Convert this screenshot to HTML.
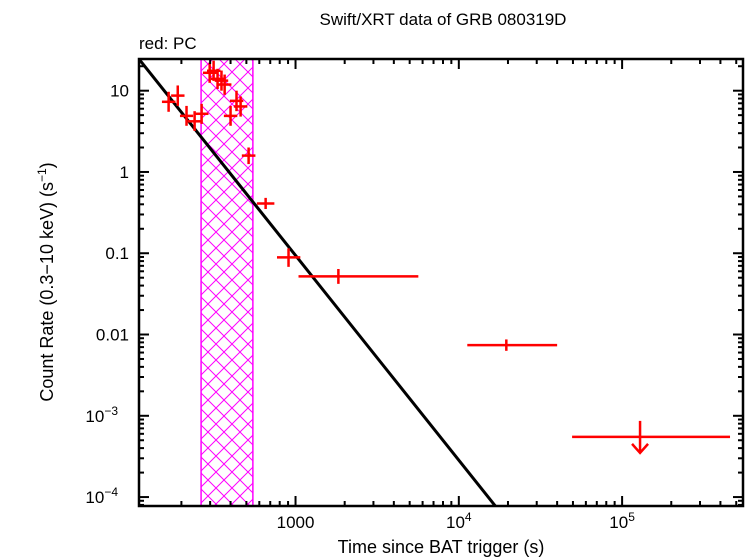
<!DOCTYPE html>
<html><head><meta charset="utf-8"><style>
body{margin:0;background:#fff}
svg{display:block;font-family:"Liberation Sans",sans-serif}
</style></head><body>
<svg id="chart" width="746" height="558" viewBox="0 0 746 558" xmlns="http://www.w3.org/2000/svg">
<defs>
<pattern id="hm" width="16" height="16" patternUnits="userSpaceOnUse"><path d="M0 0L16 16M16 0L0 16" stroke="#f0f" stroke-width="1"/></pattern>
</defs>
<text x="443" y="25" font-size="17" text-anchor="middle">Swift/XRT data of GRB 080319D</text>
<text x="139" y="49" font-size="17">red: PC</text>
<text x="441" y="553" font-size="18" text-anchor="middle">Time since BAT trigger (s)</text>
<text transform="translate(53 282) rotate(-90)" font-size="18" text-anchor="middle">Count Rate (0.3−10 keV) (s<tspan font-size="12" dy="-7">−1</tspan><tspan dy="7">)</tspan></text>
<g id="plot"></g>
</svg>
<script>
const xTicksMajor=[1000,1e4,1e5];
const xTickLabels=["1000","10","10"];
const xTickSup=["","4","5"];
const yTicksMajor=[10,1,0.1,0.01,1e-3,1e-4];
const yTickLabels=["10","1","0.1","0.01","10","10"];
const yTickSup=["","","","","−3","−4"];
const ptTime=[167,190,215,241,266,298,315,333,352,368,400,435,461,516,656,906,1830,19540];
const ptTlo=[152,173,196,219,242,271,287,303,320,335,364,396,419,469,580,770,1043,11270];
const ptThi=[184,209,236,265,293,328,347,366,387,405,440,479,507,568,742,1070,5650,40000];
const ptRate=[7.3,8.7,4.9,4.2,5.2,16.6,17.6,14,13.3,11.9,4.9,7.5,6.4,1.59,0.41,0.089,0.052,0.0074];
const ptRlo=[5.5,6.5,3.7,3.2,3.9,12.5,13.2,10.5,10.0,8.9,3.7,5.6,4.8,1.25,0.35,0.068,0.042,0.0063];
const ptRhi=[9.7,11.6,6.5,5.6,6.9,22.1,23.4,18.6,17.7,15.8,6.5,10.0,8.5,2.0,0.48,0.115,0.064,0.0087];
const ulTime=[128800];const ulTlo=[49400];const ulThi=[458000];const ulRate=[5.5e-4];
const bandStart=[264];const bandEnd=[548];
const modelT=[110,17500];const modelNorm=[24.5];const modelSlope=[-2.52];

const L=139,R=743,T=59,B=506;
const xmin=Math.log10(110),xmax=Math.log10(5.5e5),ymin=-4.11,ymax=1.39;
const X=t=>L+(Math.log10(t)-xmin)/(xmax-xmin)*(R-L);
const Y=v=>T+(ymax-Math.log10(v))/(ymax-ymin)*(B-T);
const NS="http://www.w3.org/2000/svg";
const g=document.getElementById('plot');
function el(tag,a,p){const e=document.createElementNS(NS,tag);for(const k in a)e.setAttribute(k,a[k]);(p||g).appendChild(e);return e;}

for(let i=0;i<bandStart.length;i++){
 const x1=X(bandStart[i]),x2=X(bandEnd[i]);
 const b2=el('rect',{x:x1,y:T,width:x2-x1,height:B-T,fill:'url(#hm)',stroke:'#f0f','stroke-width':1.5});
 
 
}
{
 const f=t=>modelNorm[0]*Math.pow(t/modelT[0],modelSlope[0]);
 const cg=el('g',{});
 const cp=el('clipPath',{id:'cl'},cg);el('rect',{x:L,y:T,width:R-L,height:B-T},cp);
 const ln=el('line',{x1:X(modelT[0]),y1:Y(f(modelT[0])),x2:X(modelT[1]),y2:Y(f(modelT[1])),stroke:'#000','stroke-width':3,'clip-path':'url(#cl)'});
 
 
}
for(let i=0;i<ptTime.length;i++){
 const pg=el('g',{stroke:'#f00','stroke-width':2.5});
 
 
 el('line',{x1:X(ptTlo[i]),x2:X(ptThi[i]),y1:Y(ptRate[i]),y2:Y(ptRate[i])},pg);
 el('line',{x1:X(ptTime[i]),x2:X(ptTime[i]),y1:Y(ptRlo[i]),y2:Y(ptRhi[i])},pg);
}
for(let i=0;i<ulTime.length;i++){
 const pg=el('g',{stroke:'#f00','stroke-width':2.5,fill:'none'});
 
 
 const y=Y(ulRate[i]),x=X(ulTime[i]);
 el('line',{x1:X(ulTlo[i]),x2:X(ulThi[i]),y1:y,y2:y},pg);
 el('line',{x1:x,x2:x,y1:y-16,y2:y+16},pg);
 el('path',{d:`M${x-8} ${y+7}L${x} ${y+16}L${x+8} ${y+7}`},pg);
}
const fr=el('rect',{x:L,y:T,width:R-L,height:B-T,fill:'none',stroke:'#000','stroke-width':2.5});


for(let d=2;d<=5;d++)for(let m=1;m<10;m++){
 const t=m*Math.pow(10,d);const x=X(t);if(x<L||x>R)continue;
 const len=m===1?10:5;
 el('line',{x1:x,x2:x,y1:B,y2:B-len,stroke:'#000','stroke-width':2});
 el('line',{x1:x,x2:x,y1:T,y2:T+len,stroke:'#000','stroke-width':2});
}
xTicksMajor.forEach((t,i)=>{
 const tx=el('text',{x:X(t),y:528,'font-size':17,'text-anchor':'middle'});
 
 
 tx.textContent=xTickLabels[i];
 if(xTickSup[i]){const s=el('tspan',{'font-size':12,dy:-7},tx);s.textContent=xTickSup[i];}
});
for(let d=-5;d<=1;d++)for(let m=1;m<10;m++){
 const v=m*Math.pow(10,d);const y=Y(v);if(y<T||y>B)continue;
 const len=m===1?10:5;
 el('line',{x1:L,x2:L+len,y1:y,y2:y,stroke:'#000','stroke-width':2});
 el('line',{x1:R,x2:R-len,y1:y,y2:y,stroke:'#000','stroke-width':2});
}
yTicksMajor.forEach((v,i)=>{
 const tx=el('text',{x:yTickSup[i]?118:129,y:Y(v)+6,'font-size':17,'text-anchor':'end'});
 
 
 tx.textContent=yTickLabels[i];
 if(yTickSup[i]){const s=el('tspan',{'font-size':12,dy:-7},tx);s.textContent=yTickSup[i];}
});
</script>
</body></html>
